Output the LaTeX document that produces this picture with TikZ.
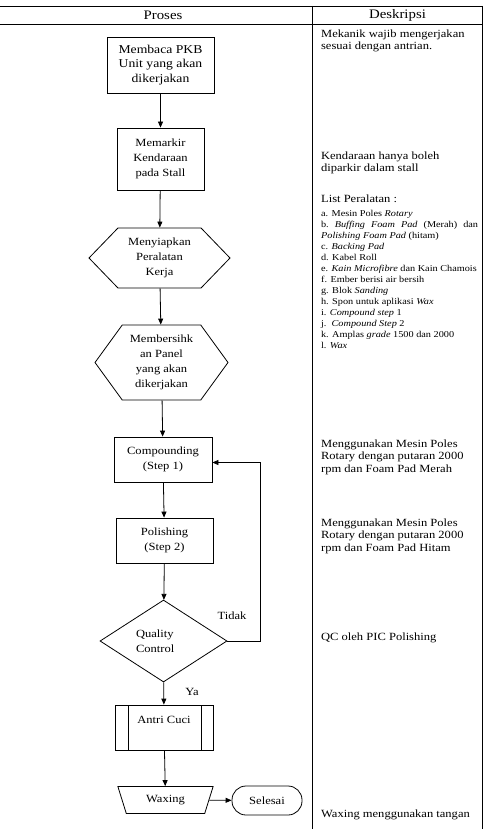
\documentclass[tikz,border=0pt]{standalone}
\usepackage{fontspec}
\setmainfont{Liberation Serif}[FakeStretch=1.14]
\usetikzlibrary{positioning,arrows.meta,shapes.geometric,shapes.symbols}

\begin{document}
\begin{tikzpicture}[
    x=1pt, y=-1pt, >={Triangle[length=6pt,width=5pt]},
    line width=0.8pt,
    every node/.style={font=\fontsize{11}{15}\selectfont, align=center, inner sep=0pt},
    procbox/.style={draw, rectangle},
    hexa/.style={draw, shape=signal, signal to=west and east},
    decision/.style={draw, diamond, aspect=1.55, minimum width=127pt, minimum height=82pt},
    manual/.style={draw, trapezium, shape border rotate=180,
                   trapezium stretches=true, trapezium angle=66.7,
                   minimum width=95.6pt, minimum height=27pt},
    predef/.style={procbox, path picture={
        \draw ([xshift=13pt]path picture bounding box.north west) -- ([xshift=13pt]path picture bounding box.south west);
        \draw ([xshift=-12pt]path picture bounding box.north east) -- ([xshift=-12pt]path picture bounding box.south east);}},
    endbox/.style={draw, rectangle, rounded corners=14pt},
    desc/.style={anchor=north west, align=left, font=\fontsize{11}{12.6}\selectfont},
    lstfont/.style={anchor=north west, align=left, font=\fontsize{9}{11}\selectfont},
    arr/.style={->}
  ]
  \useasboundingbox (0,0) rectangle (483,829);

  % table frame
  \draw (0,6) -- (483,6);
  \draw (0,24) -- (483,24);
  \draw (312.7,6) -- (312.7,829);
  \draw (482,6) -- (482,829);
  \node[font=\fontsize{13}{15}\selectfont] (hproses) at (163,15.5) {Proses};
  \node[font=\fontsize{13}{15}\selectfont] (hdesk) at (397.5,15.5) {Deskripsi};

  % flow
  \node[procbox, minimum width=107pt, minimum height=56pt, font=\fontsize{12}{14.2}\selectfont]
        (baca) at (160.5,65) {Membaca PKB\\Unit yang akan\\dikerjakan};
  \node[procbox, minimum width=87pt, minimum height=62pt]
        (parkir) at (160.5,159) {Memarkir\\Kendaraan\\pada Stall};
  \node[hexa, signal pointer angle=92, minimum width=141pt, minimum height=60pt]
        (siap) at (159.5,258) {Menyiapkan\\Peralatan\\Kerja};
  \node[hexa, signal pointer angle=108, minimum width=133pt, minimum height=75pt]
        (bersih) at (161.5,362.5) {Membersihk\\an Panel\\yang akan\\dikerjakan};
  \node[procbox, minimum width=98pt, minimum height=45pt]
        (comp) at (163,459.5) {Compounding\\(Step 1)};
  \node[procbox, minimum width=97pt, minimum height=45pt]
        (pol) at (164.5,540.5) {Polishing\\(Step 2)};
  \node[decision, text width=55pt, align=left] (qc) at (163.5,641) {Quality\\Control};
  \node[predef, minimum width=98pt, minimum height=45pt, text depth=15pt]
        (antri) at (164,727.5) {Antri Cuci};
  \node[manual] (wax) at (165.5,800) {Waxing};
  \node[endbox, minimum width=70pt, minimum height=29pt] (selesai) at (267,800.5) {Selesai};

  \node (tidak) at (232,616) {Tidak};
  \node (ya) at (192,692) {Ya};
  \coordinate (balik) at (260,641);

  \draw[arr] (baca) -- (parkir);
  \draw[arr] (parkir) -- (siap);
  \draw[arr] (siap) -- (bersih);
  \draw[arr] (bersih) -- (comp);
  \draw[arr] (comp) -- (pol);
  \draw[arr] (pol) -- (qc);
  \draw[arr] (qc) -- (antri);
  \draw[arr] (antri) -- (wax);
  \draw[arr] (wax) -- (selesai);
  \draw[arr] (qc.east) -- (balik) |- ([yshift=-3pt]comp.east);

  % deskripsi
  \node[desc] (d1) at (320.7,29) {Mekanik wajib mengerjakan\\sesuai dengan antrian.};
  \node[desc] (d2) at (320.7,151) {Kendaraan hanya boleh\\diparkir dalam stall};
  \node[desc] (d3) at (320.7,194) {List Peralatan :};
  \node[lstfont] (d3lst) at (320.7,209.5) {a. Mesin Poles \textit{Rotary}\\
    {\frenchspacing\makebox[157pt][s]{b. \textit{Buffing Foam Pad} (Merah) dan}}\\
    \textit{Polishing Foam Pad} (hitam)\\
    c. \textit{Backing Pad}\\
    d. Kabel Roll\\
    e. \textit{Kain Microfibre} dan Kain Chamois\\
    f. Ember berisi air bersih\\
    g. Blok \textit{Sanding}\\
    h. Spon untuk aplikasi \textit{Wax}\\
    i. \textit{Compound step} 1\\
    j.\ \ \textit{Compound Step} 2\\
    k. Amplas \textit{grade} 1500 dan 2000\\
    l. \textit{Wax}};
  \node[desc] (d4) at (320.7,439) {Menggunakan Mesin Poles\\Rotary dengan putaran 2000\\rpm dan Foam Pad Merah};
  \node[desc] (d5) at (320.7,518) {Menggunakan Mesin Poles\\Rotary dengan putaran 2000\\rpm dan Foam Pad Hitam};
  \node[desc, anchor=west] (d6) at (320.7,638) {QC oleh PIC Polishing};
  \node[desc, anchor=west] (d7) at (320.7,815) {Waxing menggunakan tangan};
\end{tikzpicture}
\end{document}
